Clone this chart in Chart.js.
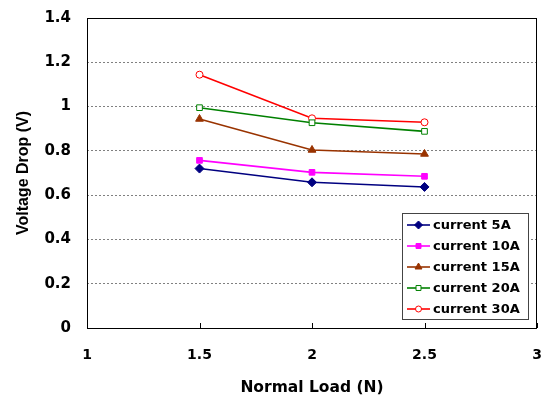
<!DOCTYPE html>
<html>
<head>
<meta charset="utf-8">
<script src="https://cdn.jsdelivr.net/npm/chart.js@4.4.1/dist/chart.umd.min.js"></script>
<style>
  html, body { margin: 0; padding: 0; background: #fff; }
  #wrap { width: 544px; height: 399px; }
</style>
</head>
<body>
<div id="wrap"><canvas id="chart" width="544" height="399"></canvas></div>
<script>
// Datos
const normalLoad = [1.5, 2, 2.5];
const current5A = [0.72, 0.658, 0.637];
const current10A = [0.757, 0.703, 0.685];
const current15A = [0.944, 0.804, 0.786];
const current20A = [0.995, 0.927, 0.888];
const current30A = [1.144, 0.947, 0.929];
const seriesLabels = ['current 5A', 'current 10A', 'current 15A', 'current 20A', 'current 30A'];
const xTicks = [1, 1.5, 2, 2.5, 3];
const yTicks = [0, 0.2, 0.4, 0.6, 0.8, 1, 1.2, 1.4];

const WIDE = 'DejaVu Sans, sans-serif';
const NARROW = 'Liberation Sans, Arial, sans-serif';

function toPoints(values) {
    return normalLoad.map((x, i) => ({ x: x, y: values[i] }));
}

function makeSeries(label, values, color, style, filled, radius) {
    return {
        label: label,
        data: toPoints(values),
        borderColor: color,
        backgroundColor: filled ? color : '#ffffff',
        pointStyle: style,
        pointRadius: radius,
        pointBorderWidth: 1,
        pointBackgroundColor: filled ? color : '#ffffff',
        pointBorderColor: color,
        borderWidth: 1.6,
        fill: false,
        tension: 0
    };
}

// Formato sin ceros de relleno: 1, 1.5, 0.2 ...
function plainLabel(value) {
    return String(Math.round(value * 10) / 10);
}

// Marco del área de trazado y marcas interiores del eje x
const framePlugin = {
    id: 'frame',
    afterDatasetsDraw(chart) {
        const { ctx, chartArea: a, scales } = chart;
        ctx.save();
        ctx.strokeStyle = '#000';
        ctx.lineWidth = 1;
        ctx.strokeRect(a.left + 0.5, a.top + 0.5, a.right - a.left - 1, a.bottom - a.top);
        xTicks.forEach(v => {
            const px = Math.round(scales.x.getPixelForValue(v)) + 0.5;
            ctx.beginPath();
            ctx.moveTo(px, a.bottom);
            ctx.lineTo(px, a.bottom - 5);
            ctx.stroke();
        });
        ctx.restore();
    }
};

// Leyenda dentro del área de trazado
const boxLegendPlugin = {
    id: 'boxLegend',
    afterDraw(chart) {
        const { ctx } = chart;
        const x0 = 402, y0 = 213, w = 126, h = 106, rowH = 21;
        ctx.save();
        ctx.fillStyle = '#fff';
        ctx.fillRect(x0, y0, w, h);
        ctx.strokeStyle = '#444';
        ctx.lineWidth = 1;
        ctx.strokeRect(x0 + 0.5, y0 + 0.5, w, h);
        chart.data.datasets.forEach((ds, i) => {
            const cy = y0 + 12 + i * rowH;
            ctx.strokeStyle = ds.borderColor;
            ctx.lineWidth = 1.6;
            ctx.beginPath();
            ctx.moveTo(407, cy);
            ctx.lineTo(430, cy);
            ctx.stroke();
            ctx.fillStyle = ds.pointBackgroundColor;
            ctx.strokeStyle = ds.pointBorderColor;
            ctx.lineWidth = 1;
            Chart.helpers.drawPoint(ctx, {
                pointStyle: ds.pointStyle,
                radius: ds.pointRadius - 0.5,
                borderWidth: 1,
                rotation: 0
            }, 418.5, cy);
            ctx.fillStyle = '#000';
            ctx.font = 'bold 13px ' + WIDE;
            ctx.textBaseline = 'middle';
            ctx.textAlign = 'left';
            ctx.fillText(ds.label, 433, cy + 1);
        });
        ctx.restore();
    }
};

const ctx = document.getElementById('chart').getContext('2d');
const chart = new Chart(ctx, {
    type: 'line',
    data: {
        datasets: [
            makeSeries(seriesLabels[0], current5A, '#000080', 'rectRot', true, 4.5),
            makeSeries(seriesLabels[1], current10A, '#ff00ff', 'rect', true, 4),
            makeSeries(seriesLabels[2], current15A, '#993300', 'triangle', true, 4.5),
            makeSeries(seriesLabels[3], current20A, '#008000', 'rect', false, 4),
            makeSeries(seriesLabels[4], current30A, '#ff0000', 'circle', false, 3.5)
        ]
    },
    options: {
        responsive: false,
        animation: false,
        layout: { padding: { top: 18, right: 7, left: 0, bottom: 0 } },
        plugins: {
            legend: { display: false },
            tooltip: { enabled: false }
        },
        scales: {
            x: {
                type: 'linear',
                min: 1,
                max: 3,
                afterBuildTicks(scale) { scale.ticks = xTicks.map(v => ({ value: v })); },
                afterFit(scale) {
                    scale.height = 71;
                    scale.paddingLeft = 0;
                    scale.paddingRight = 0;
                },
                grid: { display: false, drawTicks: false },
                border: { display: false },
                ticks: {
                    color: '#000',
                    padding: 19,
                    maxRotation: 0,
                    callback: plainLabel,
                    font: { family: WIDE, size: 14, weight: 'bold' }
                },
                title: {
                    display: true,
                    text: 'Normal Load (N)',
                    color: '#000',
                    padding: { top: 8, bottom: 2 },
                    font: { family: WIDE, size: 15.5, weight: 'bold' }
                }
            },
            y: {
                type: 'linear',
                min: 0,
                max: 1.4,
                afterBuildTicks(scale) { scale.ticks = yTicks.map(v => ({ value: v })); },
                afterFit(scale) {
                    scale.width = 87;
                    scale.paddingTop = 0;
                    scale.paddingBottom = 0;
                },
                grid: {
                    drawTicks: false,
                    color: ctx => (ctx.tick && (ctx.tick.value === 0 || ctx.tick.value === 1.4)) ? 'rgba(0,0,0,0)' : '#808080',
                    lineWidth: 1
                },
                border: { display: false, dash: [2, 2] },
                ticks: {
                    color: '#000',
                    padding: 16,
                    callback: plainLabel,
                    font: { family: WIDE, size: 15, weight: 'bold' }
                },
                title: {
                    display: true,
                    text: 'Voltage Drop (V)',
                    color: '#000',
                    padding: { top: 14, bottom: 10 },
                    font: { family: NARROW, size: 16, weight: 'bold' }
                }
            }
        }
    },
    plugins: [framePlugin, boxLegendPlugin]
});
</script>
</body>
</html>
